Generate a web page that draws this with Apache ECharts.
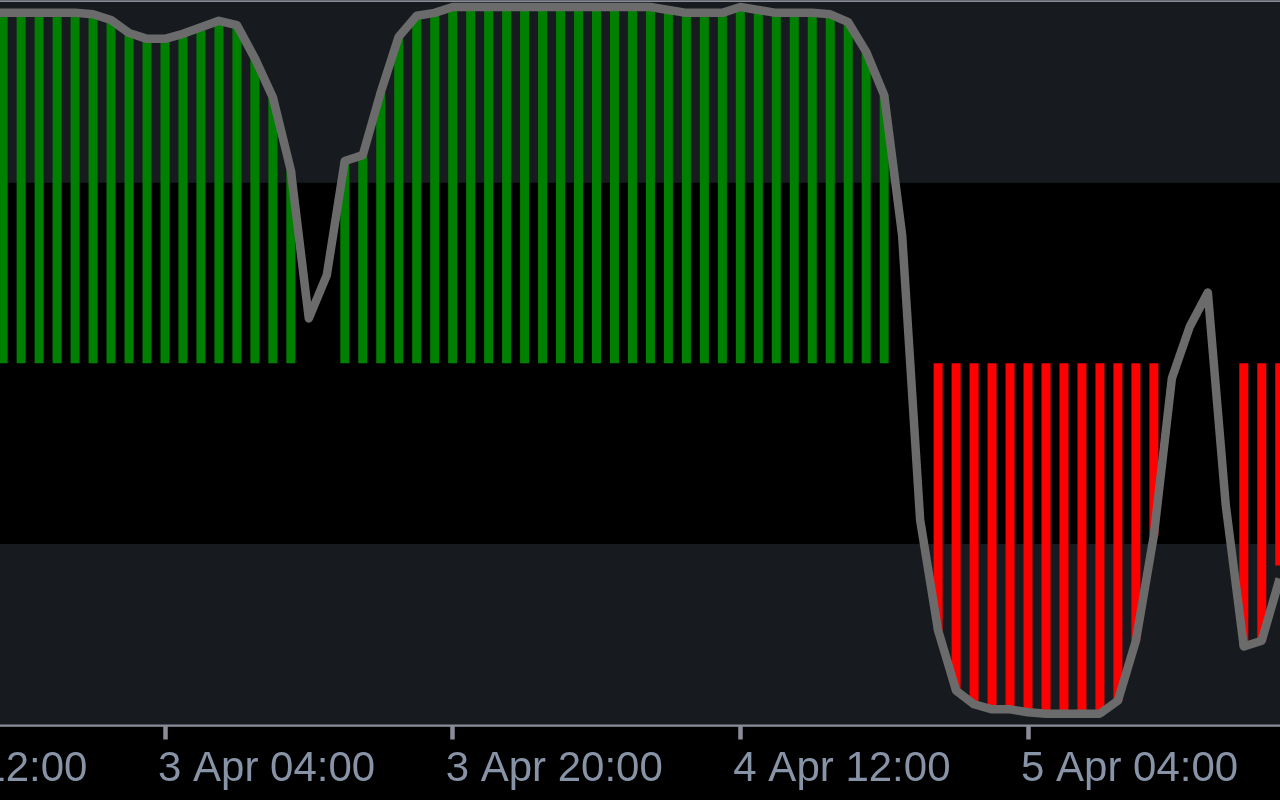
<!DOCTYPE html>
<html>
<head>
<meta charset="utf-8">
<script src="https://cdn.jsdelivr.net/npm/echarts@6/dist/echarts.min.js"></script>
<style>
html,body{margin:0;padding:0;background:#000;}
#chart{width:1280px;height:800px;}
</style>
</head>
<body>
<div id="chart"></div>
<script>
// Hourly categories from 2 Apr 12:00 to 5 Apr 20:00 (81 hours)
const startDay = 2, startHour = 12, hourCount = 81;
const categories = [];
for (let k = 0; k < hourCount; k++) {
  const t = startHour + k;
  const d = startDay + Math.floor(t / 24);
  const hh = t % 24;
  categories.push(d + ' Apr ' + (hh < 10 ? '0' : '') + hh + ':00');
}

// Tick labels shown on the time axis
const tickLabels = ['2 Apr 12:00', '3 Apr 04:00', '3 Apr 20:00', '4 Apr 12:00', '5 Apr 04:00', '5 Apr 20:00'];

// Oscillator line (0-100), one value per hour
const lineValues = [
  null, null, null, null, null, null,            // 2 Apr 12:00-17:00
  98.5, 98.5, 98.5, 98.5, 98.5, 98.5,            // 18:00-23:00
  98.3, 97.5, 95.7, 94.9, 94.9, 95.6, 96.5, 97.4, // 3 Apr 00:00-07:00
  96.8, 92.2, 86.8, 76.7, 56.2, 62.2, 78.0, 78.8,
  87.5, 95.2, 98.1, 98.5, 99.3, 99.3, 99.3, 99.3,
  99.3, 99.3, 99.3, 99.3, 99.3, 99.3, 99.3, 99.3, // 4 Apr 00:00-07:00
  98.9, 98.5, 98.5, 98.5, 99.3, 98.9, 98.5, 98.5,
  98.5, 98.3, 97.2, 93.1, 87.1, 67.7, 28.3, 13.0,
  4.7, 2.8, 2.1, 2.1, 1.7, 1.5, 1.5, 1.5,         // 5 Apr 00:00-07:00
  1.5, 3.3, 11.6, 26.2, 47.9, 55.1, 59.8, 30.3,
  10.8, 11.6, 20.2, null, null                   // 16:00-20:00
];

// Histogram values (drawn from the 50 level), one per hour, null where no bar
const histValues = [
  null, null, null, null, null, null,
  null, 98.5, 98.5, 98.5, 98.5, 98.5,
  98.3, 97.5, 95.7, 94.9, 94.9, 95.6, 96.5, 97.4,
  96.8, 92.2, 86.8, 76.7, null, null, 78.0, 78.8,
  87.5, 95.2, 98.1, 98.5, 99.3, 99.3, 99.3, 99.3,
  99.3, 99.3, 99.3, 99.3, 99.3, 99.3, 99.3, 99.3,
  98.9, 98.5, 98.5, 98.5, 99.3, 98.9, 98.5, 98.5,
  98.5, 98.3, 97.2, 93.1, 87.1, null, null, 13.0,
  4.7, 2.8, 2.1, 2.1, 1.7, 1.5, 1.5, 1.5,
  1.5, 3.3, 11.6, 26.2, null, null, null, null,
  10.8, 11.6, 22.0, null, null
];

// Band levels
const upperBand = [75, 100];
const lowerBand = [0, 25];
const midLevel = 50;

const chart = echarts.init(document.getElementById('chart'), null, {renderer: 'canvas'});
const pxPerHour = 17.98;
const gridLeft = -122.7;
const gridRight = 1280 - (gridLeft + pxPerHour * (hourCount - 1));
const isTick = (idx) => tickLabels.indexOf(categories[idx]) >= 0;

chart.setOption({
  backgroundColor: '#000000',
  animation: false,
  grid: {
    left: gridLeft, right: gridRight, top: 2, bottom: 75.5,
    containLabel: false,
    outerBoundsMode: 'none',
    show: true, borderColor: '#8a8c97', borderWidth: 3.5, backgroundColor: 'transparent'
  },
  xAxis: {
    type: 'category',
    data: categories,
    boundaryGap: false,
    axisLine: {show: true, lineStyle: {color: '#8a8c97', width: 3.5}},
    axisTick: {show: true, interval: (i) => isTick(i), length: 15, lineStyle: {color: '#8a8c97', width: 4.5}},
    axisLabel: {
      interval: (i) => isTick(i),
      align: 'left',
      color: '#8793a6',
      fontFamily: 'Liberation Sans',
      fontSize: 42,
      margin: 24,
      padding: [0, 0, 0, -7],
      hideOverlap: false,
      showMinLabel: true,
      showMaxLabel: true
    },
    splitLine: {show: false}
  },
  yAxis: [
    {type: 'value', min: 0, max: 100, show: false, splitLine: {show: false}},
    {type: 'value', min: -midLevel, max: 100 - midLevel, show: false, splitLine: {show: false}}
  ],
  series: [
    {
      type: 'line', data: [], silent: true, z: 1,
      markArea: {
        silent: true,
        itemStyle: {color: '#171b20'},
        data: [
          [{yAxis: upperBand[0]}, {yAxis: upperBand[1]}],
          [{yAxis: lowerBand[0]}, {yAxis: lowerBand[1]}]
        ]
      }
    },
    {
      type: 'bar', yAxisIndex: 1, z: 2,
      barWidth: 9,
      data: histValues.map(v => v == null ? null : +(v - midLevel).toFixed(2)),
      itemStyle: {color: (p) => p.value >= 0 ? '#008000' : '#ff0000'}
    },
    {
      type: 'line', yAxisIndex: 0, z: 3,
      data: lineValues,
      showSymbol: false, symbol: 'none',
      connectNulls: false,
      lineStyle: {color: '#6b6b6b', width: 8.5, join: 'round'}
    }
  ]
});
</script>
</body>
</html>
